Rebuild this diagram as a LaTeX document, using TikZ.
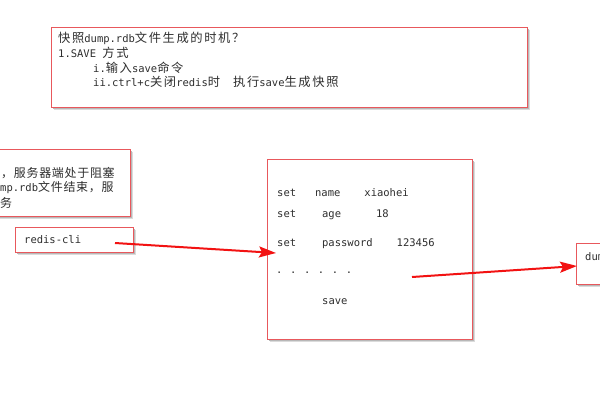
\documentclass[tikz,border=0pt]{standalone}
\usepackage{fontspec}
\usetikzlibrary{arrows.meta}
\newfontfamily\mono{DejaVu Sans Mono}
\newfontfamily\cjk[Scale=1.17,LetterSpace=13]{Noto Sans CJK SC}
\newfontfamily\cjkb[Scale=1.14,LetterSpace=6]{Noto Sans CJK SC}
\newcommand{\zh}[1]{{\cjk #1}}
\newcommand{\zhb}[1]{{\cjkb #1}}
\definecolor{boxred}{HTML}{E8585C}
\definecolor{arrred}{HTML}{F21212}
\definecolor{txt}{HTML}{2E2E2E}
\tikzset{
  box/.style={draw=boxred, line width=1.3pt, fill=white},
  shadowa/.style={fill=black!14, draw=none},
  shadowb/.style={fill=black!28, draw=none},
  lbl/.style={anchor=west, inner sep=0pt, text=txt, font=\mono\fontsize{10.5}{12}\selectfont},
  arr/.style={draw=arrred, line width=2pt, -{Stealth[length=17pt,width=11pt,inset=3pt]}},
}
\newcommand{\shadowrect}[4]{%
  \fill[shadowa] (#1+3,#2+3) rectangle (#3+3,#4+3);
  \fill[shadowb] (#1+1.5,#2+1.5) rectangle (#3+1.5,#4+1.5);
}
\begin{document}
\begin{tikzpicture}[x=1pt,y=-1pt]
\useasboundingbox (0,0) rectangle (600,400);
\clip (0,0) rectangle (600,400);
% top box
\shadowrect{51}{27}{527}{107}
\node[box, minimum width=476pt, minimum height=80pt, anchor=north west, inner sep=0pt] (top) at (51,27) {};
\node[lbl] (t1) at (58,38) {\zh{快照}dump.rdb\zh{文件生成的时机？}};
\node[lbl] (t2) at (58,53) {1.SAVE \zh{方式}};
\node[lbl] (t3) at (93,68) {i.\zh{输入}save\zh{命令}};
\node[lbl] (t4) at (93,82) {ii.ctrl+c\zh{关闭}redis\zh{时}\hspace{13pt}\zh{执行}save\zh{生成快照}};
% left clipped box
\shadowrect{-20}{149}{130}{216}
\node[box, minimum width=150pt, minimum height=67pt, anchor=north west, inner sep=0pt] (lbox) at (-20,149) {};
\node[lbl] (l1) at (1,173) {\zhb{，服务器端处于阻塞}};
\node[lbl] (l2) at (0,188) {mp.rdb\zhb{文件结束，服}};
\node[lbl] (l3) at (0,203) {\zhb{务}};
% redis-cli box
\shadowrect{15}{227}{133}{252}
\node[box, minimum width=118pt, minimum height=25pt, anchor=north west, inner sep=0pt] (cli) at (15,227) {};
\node[lbl] (clit) at (24,240) {redis-cli};
% main box
\shadowrect{267}{159}{472}{339}
\node[box, minimum width=205pt, minimum height=180pt, anchor=north west, inner sep=0pt] (main) at (267,159) {};
\node[lbl] (m1) at (277,193) {set\hspace{19pt}name\hspace{24pt}xiaohei};
\node[lbl] (m2) at (277,215) {set\hspace{26pt}age\hspace{35pt}18};
\node[lbl] (m3) at (277,244) {set\hspace{26pt}password\hspace{24pt}123456};
\node[lbl] (m4) at (276,273) {.\hspace{7.6pt}.\hspace{7.6pt}.\hspace{7.6pt}.\hspace{7.6pt}.\hspace{7.6pt}.};
\node[lbl] (m5) at (322,302) {save};
% right box
\shadowrect{576}{243}{616}{284}
\node[box, minimum width=40pt, minimum height=41pt, anchor=north west, inner sep=0pt] (dump) at (576,243) {};
\node[lbl] (dumpt) at (585,257) {dum};
% arrows
\coordinate (a1s) at (115,243);
\coordinate (a1e) at (276,253);
\coordinate (a2s) at (412,277);
\coordinate (a2e) at (577,266);
\draw[arr] (a1s) -- (a1e);
\draw[arr] (a2s) -- (a2e);
\end{tikzpicture}
\end{document}
